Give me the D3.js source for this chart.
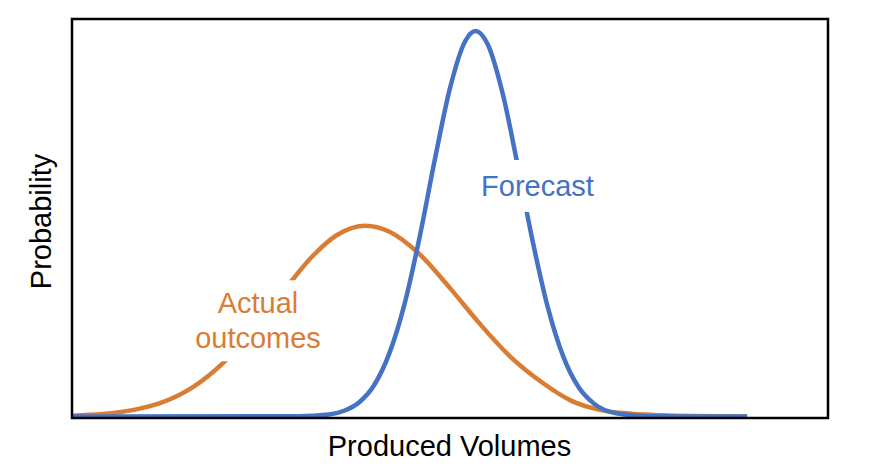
<!DOCTYPE html>
<html>
<head>
<meta charset="utf-8">
<script src="https://cdn.jsdelivr.net/npm/d3@7"></script>
<style>
  body { margin: 0; background: #fff; }
  svg { display: block; font-family: "Liberation Sans", Arial, Helvetica, sans-serif; }
</style>
</head>
<body>
<div id="chart"></div>
<script>
// values (x: produced volume 0-100, y: probability 0-100)
const forecastX = [0, 30, 34, 36, 38, 40, 42, 44, 46, 48, 50, 52, 53.4, 55, 57, 59, 61, 63, 65, 67, 69, 72, 76, 80, 89.3];
const forecastY = [0, 0.05, 0.5, 1.45, 3.6, 8.0, 16.0, 28.4, 45.3, 64.7, 82.6, 94.4, 97, 93.6, 81.0, 62.7, 43.5, 27.0, 15.0, 7.4, 3.3, 0.8, 0.1, 0, 0];

const actualX = [0, 4, 8, 12, 16, 20, 24, 28, 32, 35, 38.8, 42, 46, 50, 54, 58, 62, 66, 70, 74, 78, 82, 89.3];
const actualY = [0.2, 0.6, 1.6, 3.6, 7.4, 13.5, 21.9, 31.6, 40.7, 45.6, 48, 46.5, 40.8, 32.3, 23.2, 15.0, 8.8, 4.0, 1.6, 0.7, 0.3, 0.1, 0];

const xLabel = 'Produced Volumes';
const yLabel = 'Probability';
const forecastLabel = ['Forecast'];
const actualLabel = ['Actual', 'outcomes'];

const width = 870;
const height = 476;
const blue = '#4472C4';
const orange = '#D97D35';
const fontSize = 29;

const svg = d3.select('#chart')
  .append('svg')
  .attr('width', width)
  .attr('height', height);

const x = d3.scaleLinear().domain([0, 100]).range([72, 828]);
const y = d3.scaleLinear().domain([0, 100]).range([416.5, 19]);

const line = d3.line()
  .x(d => x(d[0]))
  .y(d => y(d[1]))
  .curve(d3.curveMonotoneX);

const actual = actualX.map((v, i) => [v, actualY[i]]);
const forecast = forecastX.map((v, i) => [v, forecastY[i]]);

svg.append('path')
  .datum(actual)
  .attr('d', line)
  .attr('fill', 'none')
  .attr('stroke', orange)
  .attr('stroke-width', 4.5);

svg.append('path')
  .datum(forecast)
  .attr('d', line)
  .attr('fill', 'none')
  .attr('stroke', blue)
  .attr('stroke-width', 4.5);

// frame
svg.append('rect')
  .attr('x', 72)
  .attr('y', 19)
  .attr('width', 756)
  .attr('height', 399)
  .attr('fill', 'none')
  .attr('stroke', '#000')
  .attr('stroke-width', 2.5);

// labels with a white box that cuts the curve
function addLabel(lines, cx, baseline, lineHeight, color, padY) {
  const g = svg.append('g');
  const bg = g.append('rect').attr('fill', '#fff');
  const t = g.append('text')
    .attr('text-anchor', 'middle')
    .attr('font-size', fontSize)
    .attr('fill', color);
  lines.forEach((s, i) => {
    t.append('tspan')
      .attr('x', cx)
      .attr('y', baseline + i * lineHeight)
      .text(s);
  });
  const b = t.node().getBBox();
  bg.attr('x', b.x - 6)
    .attr('y', b.y - padY)
    .attr('width', b.width + 12)
    .attr('height', b.height + padY * 2);
}

addLabel(forecastLabel, 537.5, 196, 0, blue, 10);
addLabel(actualLabel, 258, 313.3, 35, orange, 7);

svg.append('text')
  .attr('x', 449.5)
  .attr('y', 455.5)
  .attr('text-anchor', 'middle')
  .attr('font-size', fontSize)
  .attr('fill', '#000')
  .text(xLabel);

svg.append('text')
  .attr('transform', 'translate(50.5,221.5) rotate(-90)')
  .attr('text-anchor', 'middle')
  .attr('font-size', fontSize)
  .attr('fill', '#000')
  .text(yLabel);
</script>
</body>
</html>
